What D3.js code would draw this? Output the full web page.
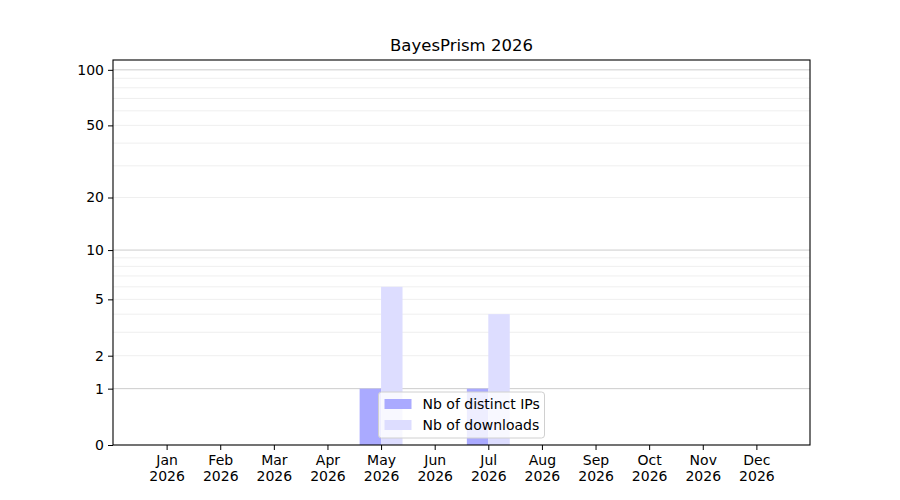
<!DOCTYPE html>
<html>
<head>
<meta charset="utf-8">
<script src="https://d3js.org/d3.v7.min.js"></script>
<style>
  body { margin: 0; background: #fff; }
  svg { font-family: "DejaVu Sans", sans-serif; }
</style>
</head>
<body>
<svg id="chart" width="900" height="500"></svg>
<script>
const months = ["Jan", "Feb", "Mar", "Apr", "May", "Jun", "Jul", "Aug", "Sep", "Oct", "Nov", "Dec"];
const year = "2026";
const distinctIPs = [0, 0, 0, 0, 1, 0, 1, 0, 0, 0, 0, 0];
const downloads = [0, 0, 0, 0, 6, 0, 4, 0, 0, 0, 0, 0];
const yTicks = [0, 1, 2, 5, 10, 20, 50, 100];
const yMajorGrid = [1, 10, 100];
const yMinorGrid = [2, 3, 4, 5, 6, 7, 8, 9, 20, 30, 40, 50, 60, 70, 80, 90];

const svg = d3.select("#chart"),
    margin = { top: 60, right: 90, bottom: 55, left: 113 },
    width = +svg.attr("width") - margin.left - margin.right,
    height = +svg.attr("height") - margin.top - margin.bottom;

const g = svg.append("g").attr("transform", `translate(${margin.left},${margin.top})`);

// months sit at integer positions, one empty slot each side
const x = d3.scaleLinear().domain([-1, 12]).range([0, width]);
const y = d3.scaleSymlog().constant(1).domain([0, 113]).range([height, 0]);
const step = x(1) - x(0);
const barW = step * 0.4;

// grid
g.append("g").selectAll("line")
    .data(yMinorGrid)
    .enter().append("line")
    .attr("x1", 0).attr("x2", width)
    .attr("y1", d => y(d)).attr("y2", d => y(d))
    .attr("stroke", "#ebebeb").attr("stroke-width", 0.8);

g.append("g").selectAll("line")
    .data(yMajorGrid)
    .enter().append("line")
    .attr("x1", 0).attr("x2", width)
    .attr("y1", d => y(d)).attr("y2", d => y(d))
    .attr("stroke", "#cccccc").attr("stroke-width", 1);

// bars
g.append("g").selectAll("rect")
    .data(distinctIPs)
    .enter().append("rect")
    .attr("x", (d, i) => x(i) - barW)
    .attr("y", d => y(d))
    .attr("width", barW)
    .attr("height", d => y(0) - y(d))
    .attr("fill", "#aaaaff");

g.append("g").selectAll("rect")
    .data(downloads)
    .enter().append("rect")
    .attr("x", (d, i) => x(i))
    .attr("y", d => y(d))
    .attr("width", barW)
    .attr("height", d => y(0) - y(d))
    .attr("fill", "#ddddff");

// x axis
const xAxis = g.append("g")
    .attr("transform", `translate(0,${height})`)
    .call(d3.axisBottom(x).tickValues(d3.range(12)).tickSize(5).tickPadding(5).tickFormat(() => ""));
xAxis.selectAll(".tick text").each(function (d) {
    const t = d3.select(this);
    t.append("tspan").attr("x", 0).attr("dy", "0.71em").text(months[d]);
    t.append("tspan").attr("x", 0).attr("dy", "1.18em").text(year);
});

// y axis
g.append("g")
    .call(d3.axisLeft(y).tickValues(yTicks).tickSize(5).tickPadding(4).tickFormat(d3.format("d")));

g.selectAll(".domain").remove();
g.selectAll(".tick line").attr("stroke", "#000").attr("stroke-width", 1);
g.selectAll(".tick text").attr("font-size", 14).attr("fill", "#000")
    .attr("font-family", "DejaVu Sans, sans-serif");

// frame
g.append("rect")
    .attr("x", 0).attr("y", 0)
    .attr("width", width).attr("height", height)
    .attr("fill", "none").attr("stroke", "#000").attr("stroke-width", 1.1);

// title
svg.append("text")
    .attr("x", margin.left + width / 2)
    .attr("y", margin.top - 9)
    .attr("text-anchor", "middle")
    .attr("font-size", 16.5)
    .text("BayesPrism " + year);

// legend
const legendItems = [
    { label: "Nb of distinct IPs", color: "#aaaaff" },
    { label: "Nb of downloads", color: "#ddddff" }
];
const lw = 166, lh = 46;
const legend = g.append("g")
    .attr("transform", `translate(${width / 2 - lw / 2},${height - lh - 7})`);
legend.append("rect")
    .attr("width", lw).attr("height", lh)
    .attr("rx", 3)
    .attr("fill", "#fff").attr("fill-opacity", 0.8)
    .attr("stroke", "#d0d0d0").attr("stroke-width", 1);
legendItems.forEach((item, i) => {
    const row = legend.append("g").attr("transform", `translate(0,${12 + i * 21})`);
    row.append("rect")
        .attr("x", 6).attr("y", -5)
        .attr("width", 27).attr("height", 10)
        .attr("fill", item.color);
    row.append("text")
        .attr("x", 44).attr("y", 0)
        .attr("dy", "0.35em")
        .attr("font-size", 14)
        .text(item.label);
});
</script>
</body>
</html>
